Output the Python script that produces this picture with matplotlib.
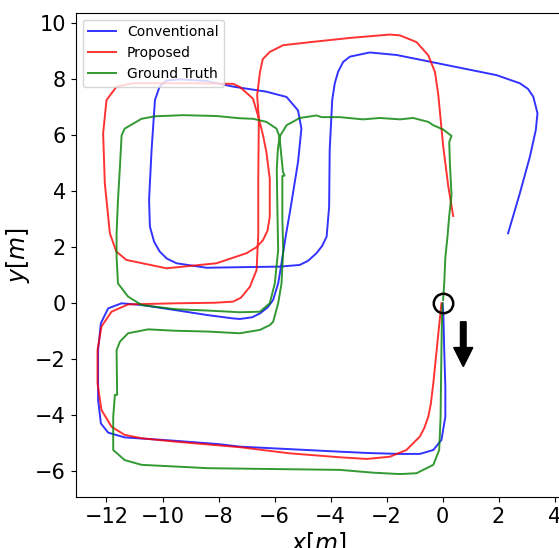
import matplotlib
matplotlib.use('Agg')
import matplotlib.pyplot as plt
import numpy as np

# trajectories (metres)
conv_x = [0.0, 0.03, 0.06, 0.1, 0.1, -0.04, -0.33, -0.81, -1.52, -2.6, -3.67, -5.45, -7.24, -8.0,
          -9.56, -10.75, -11.35, -11.94, -12.2, -12.3, -12.3, -12.2, -11.94, -11.46, -10.75, -9.56,
          -8.4, -7.48, -7.24, -6.8, -6.52, -6.25, -6.05, -5.87, -5.75, -5.6, -5.45, -5.16, -5.04,
          -5.16, -5.57, -6.29, -7.48, -8.43, -9.38, -9.85, -10.1, -10.27, -10.39, -10.48, -10.45,
          -10.3, -10.1, -9.85, -9.5, -8.43, -7.24, -5.81, -5.1, -4.8, -4.5, -4.3, -4.14, -4.05,
          -4.03, -3.94, -3.85, -3.73, -3.55, -3.31, -2.6, -1.64, -0.45, 0.74, 1.93, 2.76, 3.05,
          3.24, 3.39, 3.33, 3.12, 2.76, 2.34]
conv_y = [0.0, -0.4, -1.67, -3.0, -4.05, -4.88, -5.24, -5.38, -5.38, -5.35, -5.3, -5.21, -5.12, -5.03,
          -4.91, -4.83, -4.79, -4.62, -4.29, -3.45, -1.67, -0.71, -0.18, 0.0, -0.06, -0.24,
          -0.42, -0.54, -0.56, -0.5, -0.36, -0.15, 0.12, 0.71, 1.43, 2.4, 3.26, 5.05, 6.24,
          6.89, 7.37, 7.56, 7.74, 7.94, 8.0, 7.96, 7.75, 7.26, 5.48, 3.69, 2.74,
          2.2, 1.85, 1.6, 1.43, 1.27, 1.29, 1.31, 1.37, 1.52, 1.79, 2.05, 2.38, 3.45,
          5.48, 7.26, 7.85, 8.27, 8.62, 8.81, 8.96, 8.87, 8.63, 8.39, 8.15, 7.86, 7.66,
          7.38, 6.79, 6.19, 5.24, 3.93, 2.5]

prop_x = [-0.04, -0.15, -0.33, -0.42, -0.51, -0.65, -0.81, -1.29, -1.88, -2.71, -3.67, -5.45,
          -7.24, -9.56, -10.75, -11.35, -11.82, -12.18, -12.32, -12.32, -12.18, -11.82, -11.23,
          -9.56, -8.13, -7.48, -7.2, -6.88, -6.64, -6.58, -6.58, -6.56, -6.77, -7.24, -7.48, -9.0,
          -11.05, -11.64, -12.0, -12.12, -12.06, -11.88, -11.65, -11.29, -9.86, -8.07, -7.0, -6.65,
          -6.41, -6.25, -6.17, -6.17, -6.29, -6.41, -6.56, -6.62, -6.52, -6.42, -6.17, -5.69, -4.62,
          -3.3, -1.88, -1.52, -0.93, -0.51, -0.27, -0.15, 0.02, 0.2, 0.38]
prop_y = [0.0, -1.07, -2.86, -3.6, -4.05, -4.45, -4.76, -5.24, -5.48, -5.56, -5.5, -5.36,
          -5.14, -4.94, -4.82, -4.7, -4.41, -3.81, -2.86, -1.67, -0.83, -0.3, -0.04,
          0.0, 0.02, 0.06, 0.2, 0.59, 1.19, 2.5, 4.5, 6.6, 7.31, 7.73, 7.84, 7.86,
          7.86, 7.74, 7.26, 6.07, 4.29, 2.5, 1.85, 1.55, 1.25, 1.43, 1.79, 2.0,
          2.26, 2.6, 3.09, 4.45, 5.4, 6.0, 6.6, 7.43, 8.26, 8.72, 8.98, 9.22, 9.34,
          9.48, 9.6, 9.57, 9.33, 8.86, 8.26, 7.43, 5.64, 4.21, 3.12]

gt_x = [0.0, -0.02, -0.04, -0.07, -0.12, -0.33, -0.93, -1.52, -2.48, -3.67, -6.05, -8.37, -9.56,
        -10.75, -11.35, -11.76, -11.76, -11.7, -11.62, -11.64, -11.52, -11.23, -10.51, -9.56,
        -8.37, -7.24, -6.52, -6.17, -6.05, -5.87, -5.75, -5.69, -5.72, -5.72, -5.64, -5.7,
        -5.78, -5.82, -5.93, -6.29, -6.76, -7.24, -8.07, -9.26, -10.27, -10.75, -11.35, -11.46,
        -11.52, -11.59, -11.64, -11.64, -11.59, -11.23, -10.75, -9.56, -8.37, -7.24, -6.52,
        -6.17, -5.99, -5.87, -5.9, -5.92, -5.88, -5.82, -5.57, -5.1, -4.5, -4.32, -3.67, -2.84,
        -2.24, -1.52, -1.05, -0.51, -0.33, 0.02, 0.32, 0.24, 0.26, 0.32, 0.24, 0.17, 0.1, 0.06,
        0.02]
gt_y = [0.0, -0.5, -1.67, -4.05, -5.24, -5.77, -6.07, -6.1, -6.05, -5.95, -5.92, -5.89, -5.83,
        -5.77, -5.6, -5.24, -4.05, -3.27, -3.27, -1.67, -1.37, -1.07, -0.93, -0.98,
        -1.01, -1.07, -0.95, -0.78, -0.66, 0.0, 0.71, 1.9, 3.0, 4.55, 4.56, 4.7,
        5.5, 5.95, 6.24, 6.48, 6.59, 6.61, 6.69, 6.72, 6.68, 6.59, 6.24, 6.0,
        4.88, 3.69, 2.5, 1.65, 0.71, 0.24, -0.06, -0.21, -0.26, -0.32, -0.3,
        0.0, 0.71, 1.9, 3.5, 4.8, 5.5, 5.95, 6.36, 6.62, 6.71, 6.65, 6.65, 6.57,
        6.62, 6.57, 6.62, 6.48, 6.36, 6.21, 5.98, 5.76, 5.05, 3.86, 3.14, 2.31, 1.65, 0.71,
        0.12]

start_point = (0.0, 0.0)
x_ticks = [-12, -10, -8, -6, -4, -2, 0, 2, 4]
y_ticks = [-6, -4, -2, 0, 2, 4, 6, 8, 10]


def main():
    fig = plt.figure(figsize=(5.59, 5.48), dpi=100)
    ax = fig.add_axes([0.1354, 0.0925, 0.8712, 0.8843])

    ax.plot(conv_x, conv_y, color='b', alpha=0.8, lw=1.4, label='Conventional')
    ax.plot(prop_x, prop_y, color='r', alpha=0.8, lw=1.4, label='Proposed')
    ax.plot(gt_x, gt_y, color='g', alpha=0.8, lw=1.4, label='Ground Truth')

    ax.plot(*start_point, 'o', mfc='none', mec='k', ms=14, mew=1.8)
    ax.arrow(0.74, -0.66, 0, -1.6, width=0.2, head_width=0.68, head_length=0.68,
             length_includes_head=True, color='k')

    ax.set_xlim(-13.1, 4.29)
    ax.set_ylim(-6.93, 10.38)
    ax.set_xticks(x_ticks)
    ax.set_yticks(y_ticks)
    ax.tick_params(labelsize=15)
    ax.set_xlabel('$x[m]$', fontsize=17, labelpad=2)
    ax.set_ylabel('$y[m]$', fontsize=17, labelpad=2)
    ax.legend(loc='upper left', fontsize=10)

    fig.savefig('out.png', dpi=100)


if __name__ == "__main__":
    main()
